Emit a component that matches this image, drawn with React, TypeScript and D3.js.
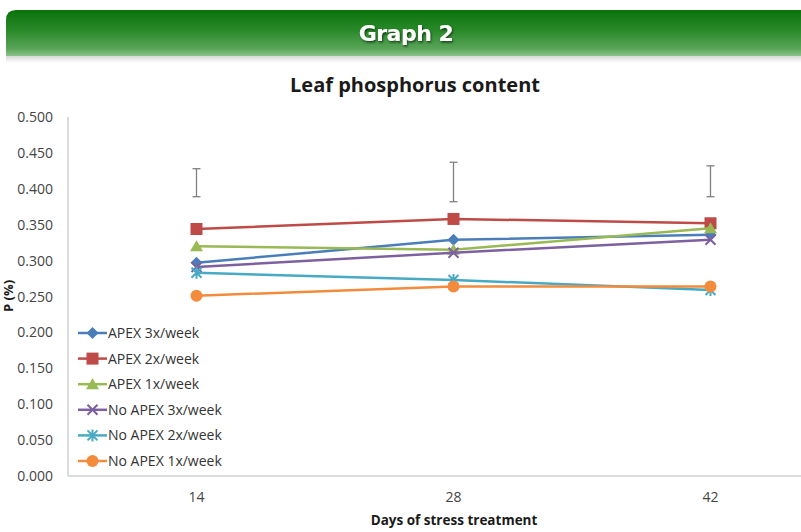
import React from 'react';
import * as d3 from 'd3';

const days = ['14', '28', '42'];
const seriesNames = [
  'APEX 3x/week',
  'APEX 2x/week',
  'APEX 1x/week',
  'No APEX 3x/week',
  'No APEX 2x/week',
  'No APEX 1x/week',
];
const apex3 = [0.297, 0.329, 0.336];
const apex2 = [0.344, 0.358, 0.352];
const apex1 = [0.32, 0.315, 0.345];
const noApex3 = [0.291, 0.311, 0.329];
const noApex2 = [0.283, 0.273, 0.259];
const noApex1 = [0.251, 0.264, 0.264];
const errLow = [0.389, 0.382, 0.389];
const errHigh = [0.428, 0.437, 0.432];
const yTicks = [0, 0.05, 0.1, 0.15, 0.2, 0.25, 0.3, 0.35, 0.4, 0.45, 0.5];

const colors = ['#4a7ebb', '#be4b48', '#98b954', '#7d60a0', '#46aac5', '#f38b3c'];
const shapes = ['diamond', 'square', 'triangle', 'cross', 'star', 'circle'];

const W = 801;
const H = 532;
const font = "'Open Sans', 'Liberation Sans', sans-serif";

const Marker = ({ shape, x, y, color }: { shape: string; x: number; y: number; color: string }) => {
  if (shape === 'diamond') {
    return <path d={`M${x},${y - 6}L${x + 6},${y}L${x},${y + 6}L${x - 6},${y}Z`} fill={color} />;
  }
  if (shape === 'square') {
    return <rect x={x - 6} y={y - 6} width={12} height={12} fill={color} />;
  }
  if (shape === 'triangle') {
    return <path d={`M${x},${y - 6}L${x + 6.5},${y + 5}L${x - 6.5},${y + 5}Z`} fill={color} />;
  }
  if (shape === 'cross') {
    return (
      <path d={`M${x - 5},${y - 5}L${x + 5},${y + 5}M${x - 5},${y + 5}L${x + 5},${y - 5}`} stroke={color} strokeWidth={2} />
    );
  }
  if (shape === 'star') {
    return (
      <path
        d={`M${x - 5},${y - 5}L${x + 5},${y + 5}M${x - 5},${y + 5}L${x + 5},${y - 5}M${x},${y - 6}L${x},${y + 6}`}
        stroke={color}
        strokeWidth={2}
      />
    );
  }
  return <circle cx={x} cy={y} r={6} fill={color} />;
};

const App = () => {
  const series = [apex3, apex2, apex1, noApex3, noApex2, noApex1];
  const x = d3.scalePoint<string>().domain(days).range([68, 839]).padding(0.5);
  const y = d3.scaleLinear().domain([0, 0.5]).range([476, 117]);
  const line = d3
    .line<number>()
    .x((d, i) => x(days[i]) as number)
    .y((d) => y(d));

  return (
    <svg width={W} height={H} style={{ position: 'absolute', left: 0, top: 0 }} fontFamily={font}>
      <defs>
        <linearGradient id="banner" x1="0" y1="0" x2="0" y2="1">
          <stop offset="0" stopColor="#0b720b" />
          <stop offset="0.45" stopColor="#2a8a2a" />
          <stop offset="0.85" stopColor="#5aa65a" />
          <stop offset="1" stopColor="#8cc28c" />
        </linearGradient>
        <linearGradient id="shade" x1="0" y1="0" x2="0" y2="1">
          <stop offset="0" stopColor="#d8d8d8" />
          <stop offset="1" stopColor="#ffffff" />
        </linearGradient>
        <filter id="ts" x="-20%" y="-20%" width="140%" height="140%">
          <feDropShadow dx="1" dy="1.5" stdDeviation="1" floodColor="#000" floodOpacity="0.6" />
        </filter>
      </defs>
      <rect x={0} y={0} width={W} height={H} fill="#fff" />

      {/* banner */}
      <rect x={6} y={56} width={W} height={7} fill="url(#shade)" />
      <path d={`M6,${56}L6,20Q6,10 16,10L${W},10L${W},56Z`} fill="url(#banner)" />
      <text x={406} y={41} textAnchor="middle" fill="#fff" fontSize={22} fontWeight="bold" filter="url(#ts)"
        fontFamily="'DejaVu Sans', sans-serif" letterSpacing={-0.5}>
        Graph 2
      </text>

      <text x={415} y={92} textAnchor="middle" fontSize={20} fontWeight="bold" fill="#1a1a1a">
        Leaf phosphorus content
      </text>

      {/* axes */}
      <line x1={68} x2={68} y1={117} y2={476} stroke="#d0d0d0" strokeWidth={1.5} />
      <line x1={68} x2={W} y1={476} y2={476} stroke="#d0d0d0" strokeWidth={1.5} />
      {yTicks.map((t) => (
        <text key={t} x={53} y={y(t) + 5} textAnchor="end" fontSize={14} fill="#444">
          {d3.format('.3f')(t)}
        </text>
      ))}
      {days.map((d) => (
        <text key={d} x={x(d)} y={502} textAnchor="middle" fontSize={14} fill="#444">
          {d}
        </text>
      ))}
      <text x={454} y={525} textAnchor="middle" fontSize={13.5} fontWeight="bold" fill="#1a1a1a">
        Days of stress treatment
      </text>
      <text transform="translate(13,296) rotate(-90)" textAnchor="middle" fontSize={13} fontWeight="bold" fill="#1a1a1a">
        P (%)
      </text>

      {/* error bars */}
      {days.map((d, i) => (
        <g key={d} stroke="#808080" strokeWidth={1.3}>
          <line x1={x(d)} x2={x(d)} y1={y(errLow[i])} y2={y(errHigh[i])} />
          <line x1={(x(d) as number) - 4} x2={(x(d) as number) + 4} y1={y(errLow[i])} y2={y(errLow[i])} />
          <line x1={(x(d) as number) - 4} x2={(x(d) as number) + 4} y1={y(errHigh[i])} y2={y(errHigh[i])} />
        </g>
      ))}

      {/* series */}
      {series.map((s, k) => (
        <g key={k}>
          <path d={line(s) as string} fill="none" stroke={colors[k]} strokeWidth={2.5} />
          {s.map((v, i) => (
            <Marker key={i} shape={shapes[k]} x={x(days[i]) as number} y={y(v)} color={colors[k]} />
          ))}
        </g>
      ))}

      {/* legend */}
      {seriesNames.map((n, k) => {
        const ly = 333 + k * 25.6;
        return (
          <g key={n}>
            <line x1={78} x2={107} y1={ly} y2={ly} stroke={colors[k]} strokeWidth={2.5} />
            <Marker shape={shapes[k]} x={92.5} y={ly} color={colors[k]} />
            <text x={108} y={ly + 5} fontSize={14} fill="#333">
              {n}
            </text>
          </g>
        );
      })}
    </svg>
  );
};

export default App;
